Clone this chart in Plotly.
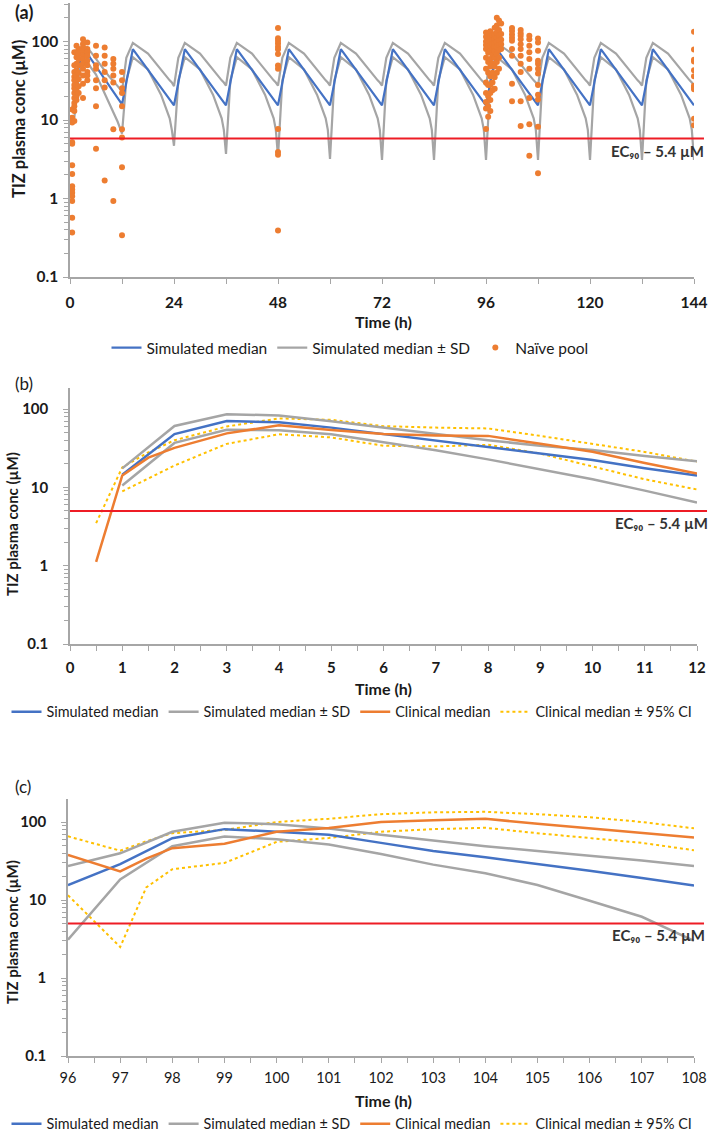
import math
import plotly.graph_objects as go

W, H = 709, 1133

# ---------------- panel (a): 0-144 h, repeated dosing ----------------
a_median_time = [1, 2, 3, 4, 12, 14.5, 24, 26.5, 36, 38.5, 48, 50.5, 60, 62.5,
                 72, 74.5, 84, 86.5, 96, 98.5, 108, 110.5, 120, 122.5, 132, 134.5, 144]
a_median_conc = [14.5, 48, 72, 70, 15.8, 80, 15.4, 80, 15.4, 80, 15.4, 80, 15.4, 80,
                 15.4, 80, 15.4, 80, 15.4, 80, 15.4, 80, 15.4, 80, 15.4, 80, 15.4]

a_sd_time = [1, 2, 3, 4, 6, 9, 11, 11.5,
             12, 13, 14.5, 18, 21, 23, 23.5,
             24, 25, 26.5, 30, 33, 35, 35.5,
             36, 37, 38.5, 42, 45, 47, 47.5,
             48, 49, 50.5, 54, 57, 59, 59.5,
             60, 61, 62.5, 66, 69, 71, 71.5,
             72, 73, 74.5, 78, 81, 83, 83.5,
             84, 85, 86.5, 90, 93, 95, 95.5,
             96, 97, 98.5, 102, 105, 107, 107.5,
             108, 109, 110.5, 114, 117, 119, 119.5,
             120, 121, 122.5, 126, 129, 131, 131.5,
             132, 133, 134.5, 138, 141, 143, 143.5,
             144]
a_sd_upper = [17.5, 61, 87, 84, 60, 36, 27, 25,
              23, 62, 96, 70, 43, 32, 30,
              27, 62, 96, 70, 43, 32, 30,
              27.5, 62, 96, 70, 43, 32, 30,
              27.5, 62, 96, 70, 43, 32, 30,
              27.5, 62, 96, 70, 43, 32, 30,
              27.5, 62, 96, 70, 43, 32, 30,
              27.5, 62, 96, 70, 43, 32, 30,
              27.5, 62, 96, 70, 43, 32, 30,
              27.5, 62, 96, 70, 43, 32, 30,
              27.5, 62, 96, 70, 43, 32, 30,
              27.5, 62, 96, 70, 43, 32, 30,
              27.5]
a_sd_lower = [10.6, 37, 55, 54, 38, 17, 9.5, 8,
              6.7, 32, 63, 44, 21, 10.5, 7.5,
              4.7, 32, 63, 44, 21, 10.5, 7.5,
              3.7, 32, 63, 44, 21, 10.5, 7.5,
              3.4, 32, 63, 44, 21, 10.5, 7.5,
              3.2, 32, 63, 44, 21, 10.5, 7.5,
              3.1, 32, 63, 44, 21, 10.5, 7.5,
              3.1, 32, 63, 44, 21, 10.5, 7.5,
              3.1, 32, 63, 44, 21, 10.5, 7.5,
              3.1, 32, 63, 44, 21, 10.5, 7.5,
              3.1, 32, 63, 44, 21, 10.5, 7.5,
              3.1, 32, 63, 44, 21, 10.5, 7.5,
              3.1]

# naive pool observations, grouped by sampling time
naive_time = [0.5, 1, 1.5, 2, 3, 4, 6, 8, 10, 12, 48,
              96, 96.5, 97, 97.5, 98, 98.5, 99, 99.5, 102, 104, 106, 108, 144]
naive_conc = [
    [13.6, 10.7, 9.7, 9.3, 5.2, 5.0, 2.66, 2.05, 1.43, 1.3, 1.18, 1.07, 0.93, 0.57, 0.37],
    [73, 50, 41, 35.5, 32, 28, 25.3, 22, 19, 16.5, 15, 13, 9.7],
    [88, 73, 63, 52, 43, 37, 32, 28, 24, 20, 18],
    [80, 70, 60, 50, 40, 33, 27, 22],
    [107, 92.6, 84, 76, 66, 60, 52, 45, 37, 29, 19],
    [97, 80, 73, 66, 57, 50, 41, 37, 32],
    [88, 66, 50, 45, 32, 25.3, 15, 4.3],
    [84, 66, 52, 41, 32, 26, 1.7],
    [60, 52, 45, 37, 30, 7.6, 0.93],
    [41, 32, 25.3, 22, 15, 7.6, 6.0, 2.5, 0.34],
    [149, 110, 102, 94.4, 86, 79.4, 69.3, 49.6, 45, 7.7, 3.9, 3.6, 0.39],
    [130, 115, 100, 90, 80, 62, 45, 30, 22, 17, 14, 7.7],
    [125, 110, 95, 85, 72, 55, 40, 28, 20, 15, 11],
    [135, 115, 100, 88, 75, 60, 48, 36, 28, 22, 18, 13],
    [120, 105, 92, 80, 68, 52, 40, 30, 24],
    [150, 125, 108, 95, 85, 75, 62, 48, 35, 25],
    [200, 160, 130, 110, 98, 86, 70, 55, 40],
    [185, 140, 118, 102, 90, 78, 62, 45],
    [170, 125, 105, 92, 80],
    [149, 136, 123, 112, 102, 80, 66, 29, 17.3],
    [140, 127, 118, 107, 92.5, 80, 66, 52, 41, 17.3, 8.4],
    [118, 107, 88, 73, 60, 45, 19, 8.8, 3.5],
    [109, 97, 76.5, 57, 52, 45, 39, 28, 21, 18.2, 8.2, 2.1],
    [133, 78.8, 58.4, 55.7, 43, 36.2, 27.4, 25.9, 24.6, 10.4, 8.6],
]

# ---------------- panel (b): 0-12 h ----------------
b_sim_time = [1, 2, 3, 4, 5, 6, 7, 8, 9, 10, 11, 12]
b_sim_median = [14.5, 48, 70.5, 68, 58, 47.8, 39.5, 33, 27, 22.4, 17.6, 14.2]
b_sim_upper = [17.5, 61, 86, 83, 70, 58, 47.8, 40, 34, 30, 25.1, 21.5]
b_sim_lower = [10.6, 37, 54.6, 53.5, 47.8, 37.7, 29.8, 22.8, 16.9, 12.7, 9.1, 6.4]

b_clin_time = [0.5, 1, 1.5, 2, 3, 4, 5, 6, 7, 8, 9, 10, 11, 12]
b_clin_median = [1.12, 14.2, 24, 32, 49, 62, 54, 48, 46, 45.5, 36, 28.5, 20.5, 15]
b_ci_upper = [3.5, 18, 28, 40, 60, 76, 73, 60.5, 58, 56.6, 45.5, 36, 28.4, 21.3]
b_ci_lower = [None, 8.9, 13, 19, 36, 47.7, 43.5, 34, 33.4, 35, 27, 18.5, 12.7, 9.4]

# ---------------- panel (c): 96-108 h ----------------
c_sim_time = [96, 97, 98, 99, 100, 101, 102, 103, 104, 105, 106, 107, 108]
c_sim_median = [15.5, 28.8, 62, 81, 75, 68.5, 54, 42.6, 35.3, 29.2, 23.7, 19.1, 15.3]
c_sim_upper = [27.2, 39.7, 75, 98, 93.6, 82.7, 68.5, 57.7, 49, 42.6, 37, 32.1, 27.3]
c_sim_lower = [3.1, 18.4, 49, 65, 60, 51.5, 38.8, 28.4, 22, 15.6, 9.8, 6.1, 3.0]

c_clin_time = [96, 97, 97.5, 98, 99, 100, 101, 102, 103, 104, 105, 106, 107, 108]
c_clin_median = [37.9, 23.2, 34, 46.2, 52.7, 75, 84, 100, 105, 110, 95, 83, 72, 63.5]
c_ci_upper = [65.5, 42.9, 56.6, 71.9, 79, 100, 110, 126, 133, 135, 126, 115, 100, 83]
c_ci_lower = [11.5, 2.5, 14.5, 24.8, 29.9, 55.7, 62.3, 75, 81, 84.3, 71.8, 62.3, 54, 43.5]

# EC90 reference line as drawn in each panel
ec90_drawn = [5.8, 5.0, 5.0]
ec90_label = "EC₉₀ – 5.4 µM"

BLUE = "#4472C4"
GREY = "#A5A5A5"
ORANGE = "#ED7D31"
YELLOW = "#FFC000"
RED = "#EE1C25"
AXIS = "#A6A6A6"
TEXT = "#1a1a1a"
FONT = "Lato, 'Open Sans', 'DejaVu Sans', sans-serif"


def py(px):
    return 1 - px / H


fig = go.Figure()

# panel (a)
fig.add_trace(go.Scatter(x=a_sd_time, y=a_sd_upper, mode="lines", name="Simulated median ± SD",
                         line=dict(color=GREY, width=2.2), legend="legend", legendrank=2,
                         xaxis="x", yaxis="y"))
fig.add_trace(go.Scatter(x=a_sd_time, y=a_sd_lower, mode="lines", showlegend=False,
                         line=dict(color=GREY, width=2.2), xaxis="x", yaxis="y"))
fig.add_trace(go.Scatter(x=a_median_time, y=a_median_conc, mode="lines", name="Simulated median",
                         line=dict(color=BLUE, width=2.2), legend="legend", legendrank=1,
                         xaxis="x", yaxis="y"))
pool_x = [t for t, vals in zip(naive_time, naive_conc) for _ in vals]
pool_y = [v for vals in naive_conc for v in vals]
fig.add_trace(go.Scatter(x=pool_x, y=pool_y, mode="markers", name="Naïve pool",
                         marker=dict(color=ORANGE, size=6), legend="legend", legendrank=3,
                         xaxis="x", yaxis="y"))

# panels (b) and (c)
for ax, leg, t_sim, med, up, lo, t_cl, cmed, cup, clo in [
    ("2", "legend2", b_sim_time, b_sim_median, b_sim_upper, b_sim_lower,
     b_clin_time, b_clin_median, b_ci_upper, b_ci_lower),
    ("3", "legend3", c_sim_time, c_sim_median, c_sim_upper, c_sim_lower,
     c_clin_time, c_clin_median, c_ci_upper, c_ci_lower),
]:
    xa, ya = "x" + ax, "y" + ax
    fig.add_trace(go.Scatter(x=t_cl, y=cup, mode="lines", name="Clinical median ± 95% CI",
                             line=dict(color=YELLOW, width=2, dash="dot"), legend=leg,
                             legendrank=4, xaxis=xa, yaxis=ya))
    fig.add_trace(go.Scatter(x=t_cl, y=clo, mode="lines", showlegend=False,
                             line=dict(color=YELLOW, width=2, dash="dot"), xaxis=xa, yaxis=ya))
    fig.add_trace(go.Scatter(x=t_sim, y=up, mode="lines", name="Simulated median ± SD",
                             line=dict(color=GREY, width=2.5), legend=leg, legendrank=2,
                             xaxis=xa, yaxis=ya))
    fig.add_trace(go.Scatter(x=t_sim, y=lo, mode="lines", showlegend=False,
                             line=dict(color=GREY, width=2.5), xaxis=xa, yaxis=ya))
    fig.add_trace(go.Scatter(x=t_sim, y=med, mode="lines", name="Simulated median",
                             line=dict(color=BLUE, width=2.5), legend=leg, legendrank=1,
                             xaxis=xa, yaxis=ya))
    fig.add_trace(go.Scatter(x=t_cl, y=cmed, mode="lines", name="Clinical median",
                             line=dict(color=ORANGE, width=2.5), legend=leg, legendrank=3,
                             xaxis=xa, yaxis=ya))

decades = [0.1, 1, 10, 100]
minor_vals = [m * d for d in [0.1, 1, 10, 100] for m in range(2, 10)]


def x_axis(left, right, rng, dtick, minor, anchor, size, weight, standoff):
    return dict(domain=[left / W, right / W], range=rng, anchor=anchor, dtick=dtick, tick0=rng[0],
                showline=True, linecolor=AXIS, linewidth=1.5, ticks="outside", ticklen=5,
                tickcolor=AXIS, tickwidth=1.2, showgrid=False, zeroline=False,
                ticklabelstandoff=standoff,
                tickfont=dict(family=FONT, size=size, color=TEXT, weight=weight),
                minor=dict(dtick=minor, ticks="outside", ticklen=5, tickcolor=AXIS, tickwidth=1.2,
                           showgrid=False))


def y_axis(top_px, bottom_px, decade_px, anchor, size, weight, standoff):
    top_log = -1 + (bottom_px - top_px) / decade_px
    return dict(type="log", domain=[py(bottom_px), py(top_px)], range=[-1, top_log], anchor=anchor,
                tickmode="array", tickvals=decades, ticktext=["0.1", "1", "10", "100"],
                showline=True, linecolor=AXIS, linewidth=1.5, ticks="outside", ticklen=5,
                tickcolor=AXIS, tickwidth=1.2, showgrid=False, zeroline=False,
                ticklabelstandoff=standoff,
                tickfont=dict(family=FONT, size=size, color=TEXT, weight=weight),
                minor=dict(tickmode="array", tickvals=minor_vals, ticks="outside", ticklen=4,
                           tickcolor=AXIS, tickwidth=1, showgrid=False))


panels = [
    dict(xt=322, leg=348, lab="(a)", laby=12, yt=119, ytx=19, ytsize=16.5, labsize=18),
    dict(xt=688, leg=712, lab="(b)", laby=383, yt=524, ytx=12, ytsize=15, labsize=17),
    dict(xt=1100, leg=1124, lab="(c)", laby=786, yt=932, ytx=12, ytsize=15, labsize=17),
]

fig.update_layout(
    xaxis=x_axis(70, 694, [0, 144], 24, 12, "y", 15.5, "bold", 6),
    yaxis=y_axis(3, 277, 78.5, "x", 15.5, "bold", 2),
    xaxis2=x_axis(70, 697, [0, 12], 1, 0.5, "y2", 15, "bold", 4),
    yaxis2=y_axis(388, 644, 78.3, "x2", 15, "bold", 12),
    xaxis3=x_axis(68, 694, [96, 108], 1, 0.5, "y3", 14.5, "normal", 3),
    yaxis3=y_axis(799, 1056, 78, "x3", 15, "bold", 12),
)

annotations = []
shapes = []
for i, p in enumerate(panels):
    sfx = "" if i == 0 else str(i + 1)
    shapes.append(dict(type="line", xref="x%s domain" % sfx, yref="y" + sfx,
                       x0=0, x1=1.016, y0=ec90_drawn[i], y1=ec90_drawn[i],
                       line=dict(color=RED, width=2), layer="above"))
    annotations.append(dict(text=ec90_label, xref="x%s domain" % sfx, yref="y" + sfx,
                            x=1.02, y=math.log10(ec90_drawn[i]), xanchor="right", yanchor="top",
                            yshift=-1, showarrow=False,
                            font=dict(family=FONT, size=15, color="#333", weight="bold")))
    annotations.append(dict(text=p["lab"], xref="paper", yref="paper", x=13 / W, y=py(p["laby"]),
                            xanchor="left", yanchor="middle", showarrow=False,
                            font=dict(family=FONT, size=p["labsize"], color=TEXT,
                                      weight="bold" if i == 0 else "normal")))
    annotations.append(dict(text="Time (h)", xref="paper", yref="paper", x=383 / W, y=py(p["xt"]),
                            xanchor="center", yanchor="middle", showarrow=False,
                            font=dict(family=FONT, size=16, color=TEXT, weight="bold")))
    annotations.append(dict(text="TIZ plasma conc (µM)", xref="paper", yref="paper",
                            x=p["ytx"] / W, y=py(p["yt"]), xanchor="center", yanchor="middle",
                            textangle=-90, showarrow=False,
                            font=dict(family=FONT, size=p["ytsize"], color=TEXT, weight="bold")))

legend_style = dict(orientation="h", xanchor="center", yanchor="middle",
                    bgcolor="rgba(0,0,0,0)", itemwidth=30, traceorder="normal")

fig.update_layout(
    width=W, height=H,
    # legends sit right at the page edges; keep them from pushing the plot areas inwards
    margin=dict(l=0, r=0, t=0, b=0, autoexpand=False),
    paper_bgcolor="white", plot_bgcolor="white",
    showlegend=True,
    legend=dict(legend_style, x=350 / W, y=py(panels[0]["leg"]),
                font=dict(family=FONT, size=15.5, color=TEXT)),
    legend2=dict(legend_style, x=352 / W, y=py(panels[1]["leg"]),
                 font=dict(family=FONT, size=14.4, color=TEXT)),
    legend3=dict(legend_style, x=352 / W, y=py(panels[2]["leg"]),
                 font=dict(family=FONT, size=14.4, color=TEXT)),
    annotations=annotations,
    shapes=shapes,
)

# the page body has an 8px default margin; drop it so the figure sits at the window origin
fig.write_html("out.html", config={"displayModeBar": False},
               post_script="document.body.style.margin = '0';")
